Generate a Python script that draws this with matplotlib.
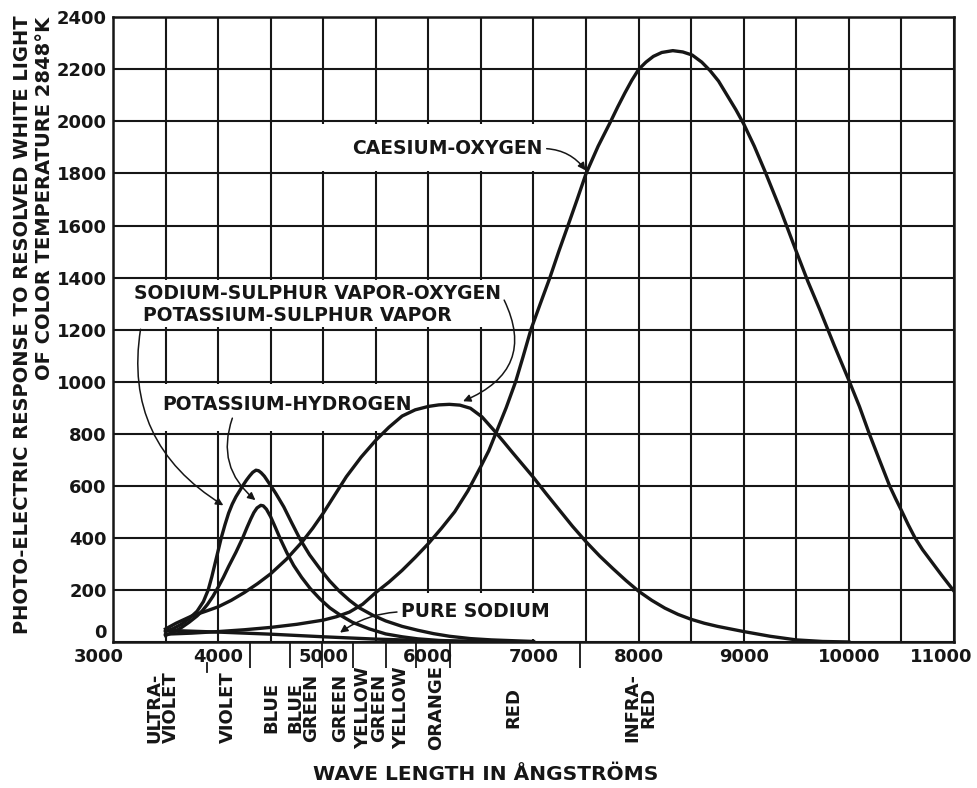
import matplotlib
matplotlib.use('Agg')
import matplotlib.pyplot as plt
from matplotlib.patches import Rectangle
from matplotlib.transforms import ScaledTranslation, blended_transform_factory

plt.rcParams['font.family'] = ['DejaVu Sans']
plt.rcParams['font.weight'] = 'bold'

INK = '#161616'

# wave length (angstrom) and response
cs_wl = [3500, 3750, 4000, 4250, 4500, 4750, 5000, 5125, 5250, 5375, 5500, 5625,
         5750, 5875, 6000, 6125, 6250, 6375, 6500, 6575, 6650, 6740, 6830, 6900,
         6975, 7065, 7156, 7240, 7328, 7415, 7500, 7615, 7734, 7800, 7870, 7935,
         8000, 8070, 8140, 8220, 8325, 8420, 8510, 8600, 8680, 8760, 8850, 8925,
         9000, 9100, 9200, 9350, 9500, 9610, 9725, 9860, 10000, 10100, 10194,
         10290, 10387, 10445, 10500, 10565, 10629, 10700, 10774, 10885, 11000]
cs_val = [30, 34, 40, 47, 56, 68, 84, 97, 115, 145, 190, 230,
          275, 325, 378, 437, 500, 580, 675, 735, 810, 900, 1000, 1095,
          1200, 1300, 1400, 1500, 1600, 1700, 1800, 1905, 2000, 2055, 2110, 2158,
          2200, 2228, 2250, 2265, 2272, 2267, 2255, 2228, 2195, 2155, 2095, 2045,
          1990, 1905, 1810, 1660, 1500, 1385, 1275, 1140, 1005, 905, 800,
          700, 600, 550, 505, 450, 400, 355, 315, 255, 195]

na_wl = [3500, 3600, 3750, 3875, 4000, 4125, 4250, 4375, 4500, 4650, 4800, 4900,
         5000, 5110, 5220, 5360, 5500, 5625, 5750, 5875, 6000, 6100, 6200, 6300,
         6400, 6510, 6620, 6710, 6800, 6900, 7000, 7120, 7240, 7370, 7500, 7630,
         7755, 7880, 8000, 8125, 8250, 8375, 8500, 8625, 8750, 9000, 9250, 9500,
         9750, 10000]
na_val = [50, 72, 100, 117, 135, 160, 190, 224, 262, 318, 385, 437,
          495, 565, 635, 710, 775, 825, 868, 892, 905, 911, 913, 910,
          898, 865, 815, 772, 728, 680, 632, 570, 510, 445, 385, 330,
          282, 236, 195, 160, 130, 106, 87, 72, 60, 40, 22, 8,
          2, 0]

ks_wl = [3500, 3575, 3650, 3725, 3800, 3860, 3906, 3940, 3970, 4000, 4030, 4065,
         4100, 4135, 4170, 4234, 4270, 4300, 4330, 4360, 4385, 4410, 4440, 4470,
         4510, 4550, 4625, 4700, 4781, 4870, 4969, 5060, 5156, 5250, 5344, 5470,
         5594, 5750, 5900, 6050, 6200, 6400, 6600, 7000]
ks_val = [40, 52, 68, 90, 118, 155, 200, 250, 300, 350, 400, 450,
          495, 530, 558, 600, 622, 638, 652, 660, 658, 650, 637, 619,
          595, 570, 519, 458, 394, 335, 281, 235, 194, 160, 131, 103,
          81, 60, 45, 32, 22, 13, 8, 2]

kh_wl = [3500, 3575, 3650, 3725, 3800, 3850, 3900, 3950, 4000, 4050, 4100, 4170,
         4234, 4275, 4310, 4340, 4370, 4406, 4430, 4460, 4500, 4545, 4594, 4655,
         4719, 4795, 4875, 4970, 5063, 5170, 5281, 5440, 5594, 5750, 5900, 6100,
         6300, 6800]
kh_val = [25, 38, 55, 76, 100, 120, 145, 175, 210, 248, 290, 345,
          400, 440, 472, 497, 515, 525, 523, 510, 481, 440, 394, 342,
          294, 248, 206, 165, 131, 101, 75, 50, 31, 20, 12, 6,
          3, 0]

ps_wl = [3500, 4000, 4500, 5000, 5500, 6000, 6500, 7000]
ps_val = [45, 38, 30, 20, 11, 5, 2, 0]

band_edges = [4303, 4681, 4993, 5285, 5600, 5884, 6206, 7441]
band_names = ['ULTRA-\nVIOLET', 'VIOLET', 'BLUE', 'BLUE\nGREEN', 'GREEN',
              'YELLOW\nGREEN', 'YELLOW', 'ORANGE', 'RED', 'INFRA-\nRED']
band_pos = [3472, 4096, 4511, 4813, 5160, 5456, 5741, 6074, 6805, 8020]

x_grid = list(range(3000, 11001, 500))
y_ticks = list(range(0, 2401, 200))

fig = plt.figure(figsize=(9.78, 7.88), dpi=100)
ax = fig.add_axes([0.1155, 0.1853, 0.86, 0.7927])

ax.set_xlim(3000, 11000)
ax.set_ylim(0, 2400)
ax.set_xticks(x_grid)
ax.set_yticks(y_ticks)
ax.set_xticklabels([str(v) if v % 1000 == 0 else '' for v in x_grid])
ax.set_yticklabels([str(v) for v in y_ticks])
ax.grid(True, color=INK, lw=1.5)
ax.set_axisbelow(True)
ax.tick_params(axis='both', which='major', length=0, labelsize=13, colors=INK)
ax.tick_params(axis='y', pad=4.5)
ax.tick_params(axis='x', pad=4)
for s in ax.spines.values():
    s.set_linewidth(1.8)
    s.set_color(INK)

# band boundaries as minor ticks below the axis
ax.set_xticks(band_edges, minor=True)
ax.tick_params(axis='x', which='minor', direction='out', length=19, width=1.3, colors=INK)

# corner labels nudged like the original
ylabs = ax.get_yticklabels()
ylabs[0].set_va('bottom')
xlabs = ax.get_xticklabels()
xlabs[0].set_transform(xlabs[0].get_transform() + ScaledTranslation(-10 / 72, 0, fig.dpi_scale_trans))
xlabs[-1].set_transform(xlabs[-1].get_transform() + ScaledTranslation(-9 / 72, 0, fig.dpi_scale_trans))

# white patches behind the labels
for x0, x1, y0, y1 in [(4515, 7485, 1810, 1990), (3000, 6985, 1210, 1390),
                       (3000, 5985, 810, 990), (5510, 7485, 10, 190)]:
    ax.add_patch(Rectangle((x0, y0), x1 - x0, y1 - y0, facecolor='white',
                           edgecolor='none', zorder=1))

for wl, val in [(cs_wl, cs_val), (na_wl, na_val), (ks_wl, ks_val),
                (kh_wl, kh_val), (ps_wl, ps_val)]:
    ax.plot(wl, val, color=INK, lw=2.4, zorder=3, solid_joinstyle='round')

arrow = dict(arrowstyle='-|>', color=INK, lw=1.1, mutation_scale=11, shrinkA=1, shrinkB=0)
lab_size = 13.5

ax.annotate('CAESIUM-OXYGEN', xy=(7495, 1812), xytext=(5275, 1896), ha='left', va='center',
            fontsize=lab_size, color=INK, zorder=4,
            arrowprops=dict(arrow, relpos=(1, 0.5), connectionstyle='arc3,rad=-0.25'))
ax.annotate('SODIUM-SULPHUR VAPOR-OXYGEN', xy=(6330, 925), xytext=(3198, 1339),
            ha='left', va='center', fontsize=lab_size, color=INK, zorder=4,
            arrowprops=dict(arrow, relpos=(1, 0.5), connectionstyle='arc3,rad=-0.55'))
ax.annotate('POTASSIUM-SULPHUR VAPOR', xy=(4050, 525), xytext=(3283, 1254),
            ha='left', va='center', fontsize=lab_size, color=INK, zorder=4,
            arrowprops=dict(arrow, relpos=(0, 0.4), connectionstyle='arc3,rad=0.35'))
ax.text(3472, 912, 'POTASSIUM-HYDROGEN', ha='left', va='center', fontsize=lab_size,
        color=INK, zorder=4)
ax.annotate('', xy=(4355, 545), xytext=(4140, 865),
            arrowprops=dict(arrow, connectionstyle='arc3,rad=0.35'))
ax.annotate('PURE SODIUM', xy=(5160, 36), xytext=(5741, 116), ha='left', va='center',
            fontsize=lab_size, color=INK, zorder=4,
            arrowprops=dict(arrow, relpos=(0, 0.5), connectionstyle='arc3,rad=0.15'))

# spectral band names under the axis
trans = blended_transform_factory(ax.transData, ax.transAxes)
for name, pos in zip(band_names, band_pos):
    ax.text(pos, -0.105, name, transform=trans, rotation=90, ha='center', va='center',
            fontsize=13, color=INK, linespacing=0.85, multialignment='center')
ax.plot([3897, 3897], [-0.034, -0.048], transform=trans, color=INK, lw=1.3, clip_on=False)

fig.text(0.497, 0.0165, 'WAVE LENGTH IN ÅNGSTRÖMS', ha='center', va='center',
         fontsize=14.5, color=INK)
fig.text(0.0225, 0.981, 'PHOTO-ELECTRIC RESPONSE TO RESOLVED WHITE LIGHT', rotation=90,
         ha='center', va='top', fontsize=14, color=INK)
fig.text(0.046, 0.979, 'OF COLOR TEMPERATURE 2848°K', rotation=90,
         ha='center', va='top', fontsize=14, color=INK)

fig.savefig('out.png', dpi=100, facecolor='white')
